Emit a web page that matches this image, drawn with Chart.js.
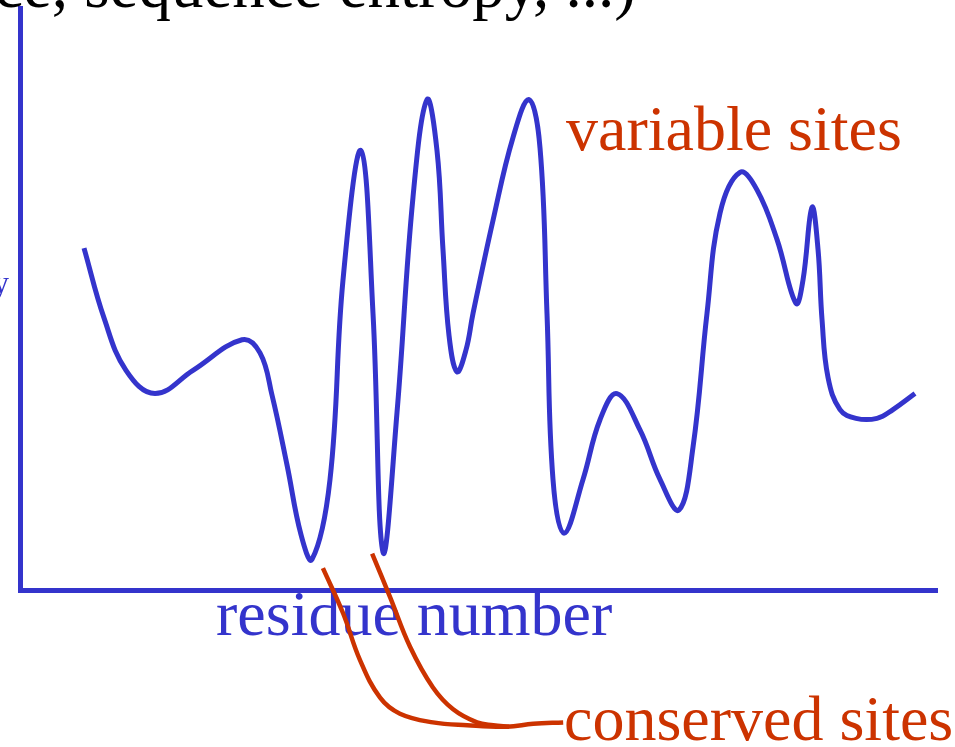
<!DOCTYPE html>
<html>
<head>
<meta charset="utf-8">
<script src="https://cdn.jsdelivr.net/npm/chart.js@4.4.1/dist/chart.umd.min.js"></script>
<style>
  html, body { margin: 0; padding: 0; background: #fff; overflow: hidden; }
  canvas { display: block; }
</style>
</head>
<body>
<canvas id="profile" width="955" height="747"></canvas>
<script>
// variability profile along the sequence
const residues = [20.94, 27.48, 34.68, 44.17, 56.60, 72.63, 78.52, 82.44, 87.35, 91.93,
  95.53, 101.42, 105.67, 111.56, 115.49, 118.76, 123.34, 128.57, 133.15, 136.42,
  138.38, 140.35, 142.96, 145.91, 148.20, 154.74, 161.29, 166.52, 170.12, 172.41,
  174.37, 177.97, 184.19, 189.75, 195.30, 202.83, 209.38, 215.59, 220.17, 224.75,
  229.01, 235.55, 241.11, 247.65, 253.87, 256.16, 259.11, 261.08, 262.38, 264.35,
  268.27, 273.50, 280.37, 285.60, 292.80];
const variability = [2.35, 1.87, 1.51, 1.35, 1.51, 1.72, 1.63, 1.34, 0.86, 0.38,
  0.21, 0.76, 2.13, 3.02, 1.90, 0.26, 1.22, 2.70, 3.37, 3.02,
  2.34, 1.75, 1.50, 1.65, 1.90, 2.54, 3.11, 3.37, 3.04, 1.90,
  0.76, 0.39, 0.76, 1.17, 1.35, 1.10, 0.76, 0.55, 0.98, 1.90,
  2.59, 2.87, 2.75, 2.41, 1.97, 2.13, 2.63, 2.34, 1.86, 1.46,
  1.24, 1.18, 1.18, 1.24, 1.35];

// leader lines from "conserved sites" up to the two deep minima
const leaderA_x = [99.1, 105.7, 111.2, 117.8, 124.3, 135.1, 146.3, 159.3, 167.9, 177.7];
const leaderA_y = [0.15, -0.16, -0.48, -0.74, -0.85, -0.91, -0.93, -0.94, -0.92, -0.91];
const leaderB_x = [115.2, 121.1, 127.6, 135.1, 141.7, 149.5, 154.8, 160.0];
const leaderB_y = [0.25, -0.05, -0.39, -0.67, -0.82, -0.91, -0.93, -0.94];

const BLUE = "#3434cc";
const RED = "#cc3300";

function pts(xs, ys) {
  return xs.map((x, i) => ({ x: x, y: ys[i] }));
}

// labels of the slide drawn as canvas text
const slideText = {
  id: "slideText",
  beforeDatasetsDraw(chart) {
    const ctx = chart.ctx;
    ctx.save();
    ctx.textBaseline = "alphabetic";
    ctx.font = '65px "Liberation Serif", "Times New Roman", serif';
    ctx.fillStyle = "#000";
    ctx.textAlign = "right";
    ctx.fillText("(e.g. variance, sequence entropy, ...)", 636, 7);

    ctx.font = '32px "Liberation Serif", "Times New Roman", serif';
    ctx.fillStyle = BLUE;
    ctx.fillText("variability", 9, 293);

    ctx.textAlign = "left";
    ctx.font = '64px "Liberation Serif", "Times New Roman", serif';
    ctx.fillStyle = RED;
    ctx.fillText("variable sites", 566, 150);
    ctx.fillText("conserved sites", 564, 740);
    ctx.fillStyle = BLUE;
    ctx.fillText("residue number", 216, 635);
    ctx.restore();
  },
};

const ctx = document.getElementById("profile").getContext("2d");
const chart = new Chart(ctx, {
  type: "line",
  data: {
    datasets: [
      {
        data: pts(residues, variability),
        borderColor: BLUE,
        borderWidth: 5,
        tension: 0.4,
        pointRadius: 0,
        fill: false,
      },
      {
        data: pts(leaderA_x, leaderA_y),
        borderColor: RED,
        borderWidth: 4.5,
        tension: 0.4,
        pointRadius: 0,
        clip: false,
        fill: false,
      },
      {
        data: pts(leaderB_x, leaderB_y),
        borderColor: RED,
        borderWidth: 4.5,
        tension: 0.4,
        pointRadius: 0,
        clip: false,
        fill: false,
      },
    ],
  },
  options: {
    responsive: false,
    animation: false,
    devicePixelRatio: 1,
    layout: { padding: { left: 20, top: 8, right: 18, bottom: 157 } },
    scales: {
      x: {
        type: "linear",
        min: 0,
        max: 300,
        grid: { display: false },
        ticks: { display: false },
        border: { display: true, color: BLUE, width: 5 },
        afterFit: (s) => { s.height = 0; },
      },
      y: {
        type: "linear",
        min: 0,
        max: 4,
        grid: { display: false },
        ticks: { display: false },
        border: { display: true, color: BLUE, width: 5 },
        afterFit: (s) => { s.width = 0; },
      },
    },
    plugins: {
      legend: { display: false },
      tooltip: { enabled: false },
    },
  },
  plugins: [slideText],
});
</script>
</body>
</html>
